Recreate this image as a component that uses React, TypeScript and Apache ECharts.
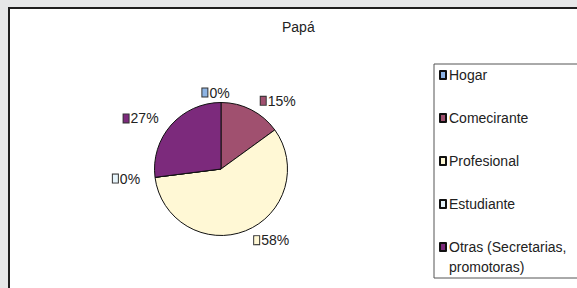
import React, { useEffect, useRef } from "react";
import * as echarts from "echarts";

const titleText = "Papá";
const categories = ["Hogar", "Comecirante", "Profesional", "Estudiante", "Otras (Secretarias, promotoras)"];
const values = [0, 15, 58, 0, 27];
const colors = ["#8eb4e3", "#a0506f", "#fff8d5", "#e6f4fb", "#7c2a7c"];

const FONT = "'Liberation Sans', Arial, sans-serif";
const FS = 14;

export default function App() {
  const ref = useRef<HTMLDivElement>(null);

  useEffect(() => {
    if (!ref.current) return;
    const chart = echarts.init(ref.current, null, { renderer: "svg" });

    const rich: Record<string, any> = {
      t: { fontSize: FS, fontFamily: FONT, color: "#222", padding: [0, 0, 0, 2] },
    };
    colors.forEach((c, i) => {
      rich["k" + i] = {
        width: 5,
        height: 8,
        backgroundColor: c,
        borderColor: "#333",
        borderWidth: 1,
      };
    });

    const lastName = categories[categories.length - 1];

    chart.setOption({
      animation: false,
      backgroundColor: "#e6e7e8",
      graphic: [
        {
          type: "rect",
          shape: { x: 9, y: 8, width: 620, height: 320 },
          style: { fill: "#ffffff", stroke: "#1e1e1e", lineWidth: 2 },
          z: -10,
          silent: true,
        },
      ],
      title: {
        text: titleText,
        left: 282,
        top: 20,
        padding: 0,
        textStyle: { fontSize: 14, fontWeight: "normal", fontFamily: FONT, color: "#222" },
      },
      legend: {
        orient: "vertical",
        left: 434,
        top: 64,
        padding: [4, 40, 4, 5],
        itemGap: 29,
        itemWidth: 6,
        itemHeight: 8,
        icon: "rect",
        borderColor: "#555",
        borderWidth: 1,
        backgroundColor: "#fff",
        textStyle: { fontSize: FS, fontFamily: FONT, color: "#222", padding: [0, 0, 0, -2] },
        formatter: (name: string) =>
          name === lastName ? "{a|Otras (Secretarias,}\n{a|promotoras)}" : name,
        data: categories.map((n) =>
          n === lastName
            ? {
                name: n,
                textStyle: {
                  padding: [20, 0, 0, -2],
                  rich: { a: { fontSize: FS, fontFamily: FONT, color: "#222", lineHeight: 20 } },
                },
              }
            : { name: n }
        ),
      },
      series: [
        {
          type: "pie",
          center: [221, 169],
          radius: 66.5,
          startAngle: 90,
          clockwise: true,
          avoidLabelOverlap: false,
          color: colors,
          itemStyle: { borderColor: "#111", borderWidth: 1 },
          emphasis: { disabled: true },
          label: {
            show: true,
            position: "outside",
            formatter: (p: any) => `{k${p.dataIndex}|}{t|${Math.round(p.percent)}%}`,
            rich,
          },
          labelLine: { show: false, length: 10, length2: 0 },
          labelLayout: (p: any) => (p.dataIndex === 0 ? { align: "center" } : {}),
          data: categories.map((name, i) => ({ name, value: values[i] })),
        },
      ],
    });

    return () => chart.dispose();
  }, []);

  return (
    <div
      ref={ref}
      style={{ position: "absolute", left: 0, top: 0, width: 577, height: 288 }}
    />
  );
}
